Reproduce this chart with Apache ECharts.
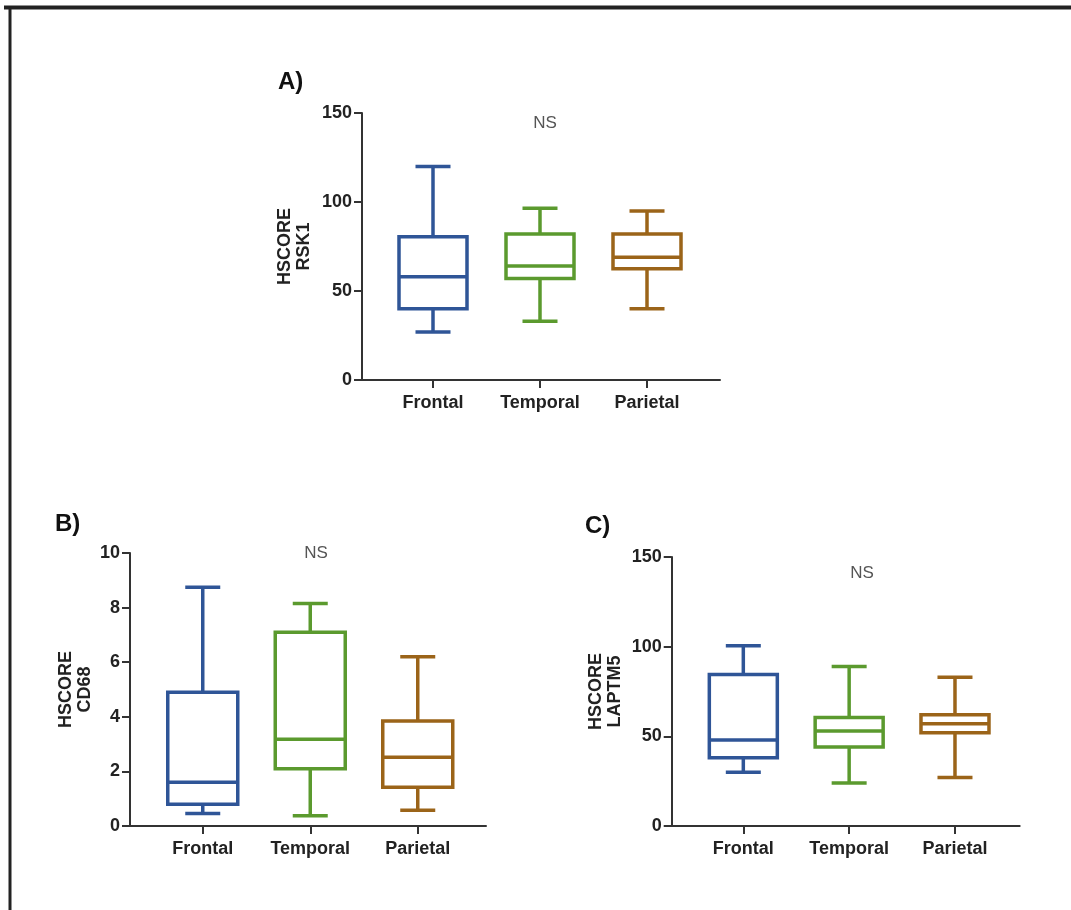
<!DOCTYPE html>
<html>
<head>
<meta charset="utf-8">
<title>HSCORE by lobe</title>
<script src="https://cdn.jsdelivr.net/npm/echarts@6/dist/echarts.min.js"></script>
<style>
    html, body { margin: 0; padding: 0; background: #fff; }
    #chart { width: 1071px; height: 910px; }
</style>
</head>
<body>
<div id="chart"></div>
<script>
// categories and box values: [min, Q1, median, Q3, max]
const categories = ['Frontal', 'Temporal', 'Parietal'];
const boxColors = ['#2f5597', '#5b9a2e', '#9b6419'];

const rsk1 = [
    [27, 40, 58, 80.5, 120],
    [33, 57, 64, 82, 96.5],
    [40, 62.5, 69, 82, 95]
];
const cd68 = [
    [0.46, 0.8, 1.6, 4.9, 8.75],
    [0.38, 2.1, 3.18, 7.1, 8.15],
    [0.58, 1.42, 2.52, 3.85, 6.2]
];
const laptm5 = [
    [30, 38, 48, 84.5, 100.5],
    [24, 44, 53, 60.5, 89],
    [27, 52, 57, 62, 83]
];

const tickFont = 'Liberation Sans, Arial, sans-serif';
const axisColor = '#333';

// a box with whiskers, drawn through the axis scales
function boxRenderer(halfBox, halfCap) {
    return function (params, api) {
        const x = api.value(0);
        const pMin = api.coord([x, api.value(1)]);
        const pQ1 = api.coord([x, api.value(2)]);
        const pMed = api.coord([x, api.value(3)]);
        const pQ3 = api.coord([x, api.value(4)]);
        const pMax = api.coord([x, api.value(5)]);
        const cx = pMed[0];
        const style = {
            stroke: boxColors[params.dataIndex],
            lineWidth: 3.5,
            fill: 'none'
        };
        return {
            type: 'group',
            children: [
                { type: 'line', shape: { x1: cx, y1: pQ3[1], x2: cx, y2: pMax[1] }, style: style },
                { type: 'line', shape: { x1: cx, y1: pQ1[1], x2: cx, y2: pMin[1] }, style: style },
                { type: 'line', shape: { x1: cx - halfCap, y1: pMax[1], x2: cx + halfCap, y2: pMax[1] }, style: style },
                { type: 'line', shape: { x1: cx - halfCap, y1: pMin[1], x2: cx + halfCap, y2: pMin[1] }, style: style },
                { type: 'rect', shape: { x: cx - halfBox, y: pQ3[1], width: halfBox * 2, height: pQ1[1] - pQ3[1] }, style: style },
                { type: 'line', shape: { x1: cx - halfBox, y1: pMed[1], x2: cx + halfBox, y2: pMed[1] }, style: style }
            ]
        };
    };
}

function toRows(values) {
    return values.map(function (d, i) { return [i].concat(d); });
}

// panel layout: outer grid carries the visible y axis + x axis line,
// inner grid carries the category axis with labels
const panels = [
    { data: rsk1, name: 'HSCORE\nRSK1', max: 150, interval: 50, top: 113, height: 267,
      outerLeft: 362, outerWidth: 358, innerLeft: 379.5, innerWidth: 321, nameGap: 48, halfBox: 34 },
    { data: cd68, name: 'HSCORE\nCD68', max: 10, interval: 2, top: 553, height: 273,
      outerLeft: 130, outerWidth: 356, innerLeft: 149, innerWidth: 322.5, nameGap: 35, halfBox: 35 },
    { data: laptm5, name: 'HSCORE\nLAPTM5', max: 150, interval: 50, top: 557, height: 269,
      outerLeft: 671.7, outerWidth: 348, innerLeft: 690.4, innerWidth: 317.5, nameGap: 47, halfBox: 34 }
];

const grid = [], xAxis = [], yAxis = [], series = [];
panels.forEach(function (p, k) {
    grid.push({ left: p.outerLeft, top: p.top, width: p.outerWidth, height: p.height });
    grid.push({ left: p.innerLeft, top: p.top, width: p.innerWidth, height: p.height });
    xAxis.push({
        gridIndex: 2 * k, type: 'value', min: 0, max: 1,
        axisLine: { show: true, lineStyle: { color: axisColor, width: 2 } },
        axisTick: { show: false }, axisLabel: { show: false }, splitLine: { show: false }
    });
    xAxis.push({
        gridIndex: 2 * k + 1, type: 'category', data: categories,
        axisLine: { show: false },
        axisTick: { show: true, alignWithLabel: true, length: 8, lineStyle: { color: axisColor, width: 2 } },
        axisLabel: { color: '#222', fontFamily: tickFont, fontWeight: 'bold', fontSize: 18, margin: 14 },
        splitLine: { show: false }
    });
    yAxis.push({
        gridIndex: 2 * k, type: 'value', min: 0, max: p.max, interval: p.interval,
        name: p.name, nameLocation: 'middle', nameRotate: 90, nameGap: p.nameGap,
        nameTextStyle: { color: '#222', fontFamily: 'Liberation Sans, Arial, sans-serif', fontWeight: 'bold', fontSize: 18, lineHeight: 19 },
        axisLine: { show: true, lineStyle: { color: axisColor, width: 2 } },
        axisTick: { show: true, length: 8, lineStyle: { color: axisColor, width: 2 } },
        axisLabel: { color: '#222', fontFamily: tickFont, fontWeight: 'bold', fontSize: 18, margin: 10 },
        splitLine: { show: false }
    });
    yAxis.push({
        gridIndex: 2 * k + 1, type: 'value', min: 0, max: p.max, show: false
    });
    series.push({
        type: 'custom',
        xAxisIndex: 2 * k + 1,
        yAxisIndex: 2 * k + 1,
        renderItem: boxRenderer(p.halfBox, 17.5),
        encode: { x: 0, y: [1, 2, 3, 4, 5] },
        data: toRows(p.data),
        silent: true
    });
});

const labelStyle = { fill: '#111', font: 'bold 24px Liberation Sans, Arial, sans-serif' };
const nsStyle = { fill: '#555', font: '17px Liberation Sans, sans-serif', textAlign: 'center', textVerticalAlign: 'middle' };

const chart = echarts.init(document.getElementById('chart'));
chart.setOption({
    backgroundColor: '#fff',
    animation: false,
    grid: grid,
    xAxis: xAxis,
    yAxis: yAxis,
    series: series,
    graphic: [
        { type: 'line', shape: { x1: 4, y1: 7.5, x2: 1071, y2: 7.5 }, style: { stroke: '#222', lineWidth: 4 } },
        { type: 'line', shape: { x1: 10, y1: 6, x2: 10, y2: 910 }, style: { stroke: '#222', lineWidth: 3 } },
        { type: 'text', left: 278, top: 70, style: Object.assign({ text: 'A)' }, labelStyle) },
        { type: 'text', left: 55, top: 512, style: Object.assign({ text: 'B)' }, labelStyle) },
        { type: 'text', left: 585, top: 514, style: Object.assign({ text: 'C)' }, labelStyle) },
        { type: 'text', x: 545, y: 123, style: Object.assign({ text: 'NS' }, nsStyle) },
        { type: 'text', x: 316, y: 553, style: Object.assign({ text: 'NS' }, nsStyle) },
        { type: 'text', x: 862, y: 573, style: Object.assign({ text: 'NS' }, nsStyle) }
    ]
});
window.addEventListener('resize', function () {
    chart.resize();
});
</script>
</body>
</html>
